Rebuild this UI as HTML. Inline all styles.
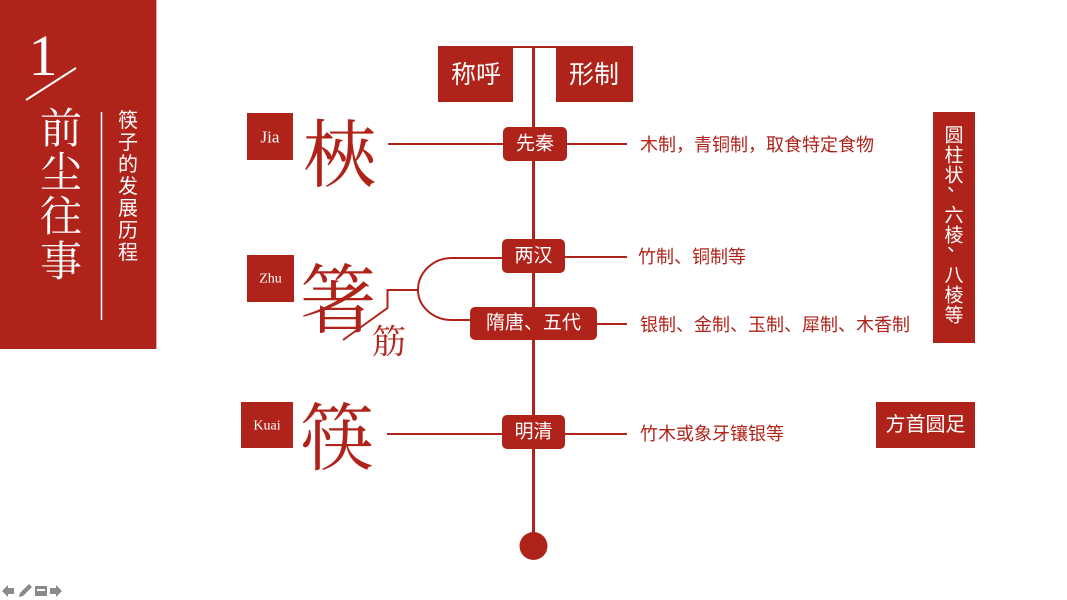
<!DOCTYPE html>
<html><head><meta charset="utf-8"><style>
html,body{margin:0;padding:0;background:#fff;}
svg{display:block;}
.s{font-family:"Liberation Sans","Noto Sans CJK SC",sans-serif;}
.sf{font-family:"Liberation Serif","Noto Serif CJK SC",serif;}
</style></head><body>
<svg width="1067" height="600" viewBox="0 0 1067 600" xmlns="http://www.w3.org/2000/svg">
<rect x="0" y="0" width="1067" height="600" fill="#fff"/>
<!-- left panel -->
<rect x="0" y="0" width="156" height="349" fill="#b0231a"/>
<line x1="156.5" y1="0" x2="156.5" y2="349" stroke="#e3a9a4" stroke-width="1"/>
<text x="43" y="75" class="sf" font-size="58" fill="#fff" text-anchor="middle">1</text>
<line x1="26" y1="100" x2="76" y2="68" stroke="#fff" stroke-width="2"/>
<g class="sf" font-size="42" fill="#fff" text-anchor="middle" dominant-baseline="central">
<text x="61" y="130">前</text><text x="61" y="174">尘</text><text x="61" y="218">往</text><text x="61" y="263">事</text>
</g>
<line x1="101.5" y1="112" x2="101.5" y2="320" stroke="#fff" stroke-width="1.5"/>
<g class="s" font-size="20" fill="#fff" text-anchor="middle" dominant-baseline="central">
<text x="128" y="121">筷</text><text x="128" y="143">子</text><text x="128" y="165">的</text><text x="128" y="187">发</text><text x="128" y="209">展</text><text x="128" y="231">历</text><text x="128" y="253">程</text>
</g>

<!-- top boxes -->
<rect x="438" y="46" width="75" height="56" fill="#b0231a"/>
<rect x="556" y="46" width="77" height="56" fill="#b0231a"/>
<line x1="438" y1="47" x2="633" y2="47" stroke="#b0231a" stroke-width="2"/>
<g class="s" font-size="25" fill="#fff" text-anchor="middle" dominant-baseline="central">
<text x="476" y="75">称呼</text><text x="594" y="75">形制</text>
</g>

<!-- main vertical -->
<line x1="533.5" y1="47" x2="533.5" y2="540" stroke="#b0231a" stroke-width="3"/>
<circle cx="533.5" cy="546" r="14" fill="#b0231a"/>

<!-- connectors -->
<g stroke="#b0231a" stroke-width="2" fill="none">
<line x1="388" y1="144" x2="503" y2="144"/>
<line x1="567" y1="144" x2="627" y2="144"/>
<line x1="565" y1="257" x2="627" y2="257"/>
<line x1="597" y1="324" x2="627" y2="324"/>
<line x1="387" y1="434" x2="502" y2="434"/>
<line x1="565" y1="434" x2="627" y2="434"/>
<path d="M502 258 H452 A34 32 0 0 0 418 290 A34 30 0 0 0 452 320 H471"/>
<path d="M418 290 H387.5 V308 L343 340"/>
</g>

<!-- era boxes -->
<g fill="#b0231a">
<rect x="503" y="127" width="64" height="34" rx="5"/>
<rect x="502" y="239" width="63" height="34" rx="5"/>
<rect x="470" y="307" width="127" height="33" rx="5"/>
<rect x="502" y="415" width="63" height="34" rx="5"/>
</g>
<g class="s" font-size="19" fill="#fff" text-anchor="middle" dominant-baseline="central">
<text x="535" y="144">先秦</text>
<text x="533.5" y="256">两汉</text>
<text x="533.5" y="323">隋唐、五代</text>
<text x="533.5" y="432">明清</text>
</g>

<!-- left name boxes -->
<g fill="#b0231a">
<rect x="247" y="113" width="46" height="47"/>
<rect x="247" y="255" width="47" height="47"/>
<rect x="241" y="402" width="52" height="46"/>
</g>
<g class="sf" fill="#fff" text-anchor="middle" dominant-baseline="central">
<text x="270" y="137" font-size="17">Jia</text>
<text x="270.5" y="279" font-size="14">Zhu</text>
<text x="267" y="426" font-size="14">Kuai</text>
</g>
<g class="sf" fill="#b0231a" text-anchor="middle" dominant-baseline="central">
<text x="340" y="157" font-size="74">梜</text>
<text x="338" y="302" font-size="76">箸</text>
<text x="389" y="343" font-size="34">筋</text>
<text x="337" y="440" font-size="74">筷</text>
</g>

<!-- right texts -->
<g class="s" font-size="18" fill="#b0231a" dominant-baseline="central">
<text x="640" y="145">木制，青铜制，取食特定食物</text>
<text x="638" y="257">竹制、铜制等</text>
<text x="640" y="325">银制、金制、玉制、犀制、木香制</text>
<text x="640" y="434">竹木或象牙镶银等</text>
</g>

<!-- right boxes -->
<rect x="933" y="112" width="42" height="231" fill="#b0231a"/>
<g class="s" font-size="19" fill="#fff" text-anchor="middle" dominant-baseline="central">
<text x="954" y="136">圆</text><text x="954" y="156">柱</text><text x="954" y="176">状</text>
<text x="954" y="216">六</text><text x="954" y="236">棱</text>
<text x="954" y="276">八</text><text x="954" y="296">棱</text><text x="954" y="316">等</text>
</g>
<g class="s" font-size="19" fill="#fff" dominant-baseline="central">
<text x="947" y="185">、</text>
<text x="947" y="245">、</text>
</g>
<rect x="876" y="402" width="99" height="46" fill="#b0231a"/>
<text x="925.5" y="425" class="s" font-size="20" fill="#fff" text-anchor="middle" dominant-baseline="central">方首圆足</text>

<!-- nav icons -->
<g fill="#8a8a8a">
<path d="M2 591 L8 585 V588 H14 V594 H8 V597 Z"/>
<path d="M19 597 L20 593 L29 584 L32 587 L23 596 Z"/>
<rect x="35" y="586" width="12" height="10"/>
<path d="M62 591 L56 585 V588 H50 V594 H56 V597 Z"/>
</g>
<rect x="37" y="589" width="8" height="2" fill="#fff"/>
</svg>
</body></html>
